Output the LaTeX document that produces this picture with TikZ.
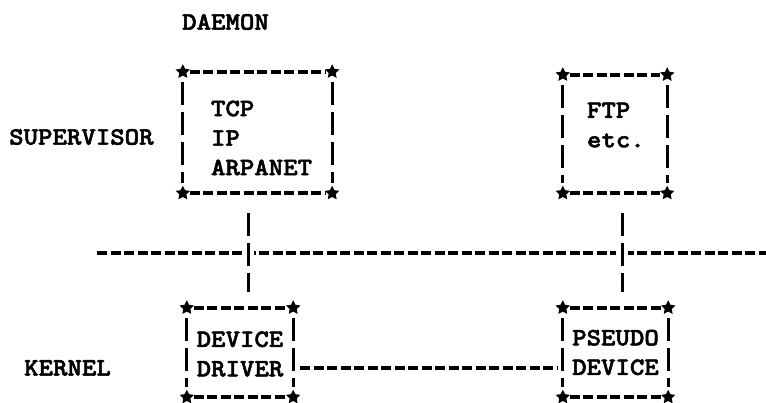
\documentclass[tikz,border=0pt]{standalone}
\usepackage{fontspec}
\newfontfamily\ttyfont{lmmonolt10-bold.otf}[FakeStretch=1.1,FakeBold=2]
\usetikzlibrary{shapes.geometric}
\tikzset{
  tty/.style={font=\ttyfont\fontsize{25}{29.5}\selectfont,inner sep=0pt},
  asciitext/.style={tty,align=left},
  asciibox/.style={inner sep=0pt},
  rowline/.style={line width=3.5pt,dash pattern=on 10pt off 3.5pt},
  colline/.style={line width=3pt,dash pattern=on 23pt off 7pt},
  corner/.style={star,star points=5,star point ratio=2,fill,inner sep=0pt,minimum size=15pt}
}
\begin{document}
\begin{tikzpicture}[x=1pt,y=-1pt]
  \useasboundingbox (0,0) rectangle (766,402);
  \node[tty,anchor=west] (daemon) at (182,22) {DAEMON};
  \node[tty,anchor=west] (sup) at (9,137) {SUPERVISOR};
  \node[tty,anchor=west] (ker) at (24,368) {KERNEL};
  \node[asciibox,minimum width=149pt,minimum height=121pt] (tcp) at (257.5,132.5) {};
  \node[asciibox,minimum width=104pt,minimum height=118pt] (ftp) at (615,134) {};
  \node[asciibox,minimum width=106pt,minimum height=89pt] (drv) at (240,352.5) {};
  \node[asciibox,minimum width=105pt,minimum height=89pt] (pdev) at (615.5,352.5) {};
  \node[asciitext,anchor=west] (tcpt) at ([xshift=28pt,yshift=-5.5pt]tcp.west) {TCP\\IP\\ARPANET};
  \node[asciitext,anchor=west] (ftpt) at ([xshift=24pt,yshift=9pt]ftp.west) {FTP\\etc.};
  \node[asciitext] (drvt) at ([yshift=-1.5pt]drv.center) {DEVICE\\DRIVER};
  \node[asciitext] (pdevt) at ([yshift=0pt]pdev.center) {PSEUDO\\DEVICE};
  \foreach \b in {tcp,ftp,drv,pdev}
  {
    \draw[rowline,shorten <=7pt,shorten >=7pt] (\b.north west) -- (\b.north east);
    \draw[rowline,shorten <=7pt,shorten >=7pt] (\b.south west) -- (\b.south east);
    \draw[colline,shorten <=10pt,shorten >=10pt] (\b.north west) -- (\b.south west);
    \draw[colline,shorten <=10pt,shorten >=10pt] (\b.north east) -- (\b.south east);
    \foreach \c in {north west,north east,south west,south east}
      \node[corner] at (\b.\c) {};
  }
  \coordinate (vl) at (248,0);
  \coordinate (vr) at (622,0);
  \coordinate (hl) at (97,253);
  \coordinate (hr) at (766,253);
  \draw[rowline] (hl) -- (hr);
  \draw[colline,preaction={draw=white,solid,line width=12pt},shorten <=20pt,shorten >=16pt] (tcp.south -| vl) -- (drv.north -| vl);
  \draw[colline,preaction={draw=white,solid,line width=12pt},shorten <=20pt,shorten >=16pt] (ftp.south -| vr) -- (pdev.north -| vr);
  \draw[rowline,shorten <=7pt,shorten >=6pt] ([yshift=-15.5pt]drv.east) -- ([yshift=-15.5pt]pdev.west);
\end{tikzpicture}
\end{document}
